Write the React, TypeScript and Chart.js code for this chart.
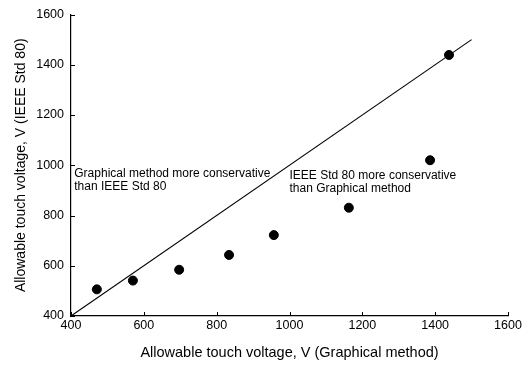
import React, { useEffect, useRef } from "react";
import { Chart, registerables } from "chart.js";

Chart.register(...registerables);

const graphicalMethod = [471, 570, 697, 834, 957, 1163, 1386, 1438];
const ieeeStd80 = [506, 541, 584, 643, 722, 831, 1020, 1439];
const equalityLineX = [400, 1500];
const equalityLineY = [400, 1500];
const xTicks = [400, 600, 800, 1000, 1200, 1400, 1600];
const yTicks = [400, 600, 800, 1000, 1200, 1400, 1600];
const leftNote = ["Graphical method more conservative", "than IEEE Std 80"];
const leftNotePos = [409, 968];
const rightNote = ["IEEE Std 80 more conservative", "than Graphical method"];
const rightNotePos = [1000, 960];

const FONT = "'Liberation Sans', Arial, Helvetica, sans-serif";

const extrasPlugin = {
  id: "extras",
  afterDraw(chart: any) {
    const ctx = chart.ctx;
    const xs = chart.scales.x;
    const ys = chart.scales.y;
    const ca = chart.chartArea;
    ctx.save();
    ctx.strokeStyle = "#000";
    ctx.lineWidth = 1;
    xTicks.forEach((v) => {
      const px = Math.round(xs.getPixelForValue(v)) + 0.5;
      ctx.beginPath();
      ctx.moveTo(px, ca.bottom);
      ctx.lineTo(px, ca.bottom - 4);
      ctx.stroke();
    });
    yTicks.forEach((v) => {
      const py = Math.round(ys.getPixelForValue(v)) + 0.5;
      ctx.beginPath();
      ctx.moveTo(ca.left, py);
      ctx.lineTo(ca.left + 4, py);
      ctx.stroke();
    });
    ctx.fillStyle = "#000";
    ctx.font = `12px ${FONT}`;
    ctx.textAlign = "left";
    ctx.textBaseline = "middle";
    const drawNote = (lines: string[], pos: number[]) => {
      const x = xs.getPixelForValue(pos[0]);
      const y = ys.getPixelForValue(pos[1]);
      lines.forEach((l, i) => ctx.fillText(l, x, y + i * 13));
    };
    drawNote(leftNote, leftNotePos);
    drawNote(rightNote, rightNotePos);
    ctx.restore();
  },
};

export default function App() {
  const ref = useRef<HTMLCanvasElement | null>(null);
  useEffect(() => {
    if (!ref.current) return;
    const chart = new Chart(ref.current, {
      type: "scatter",
      data: {
        datasets: [
          {
            type: "line",
            data: equalityLineX.map((x, i) => ({ x, y: equalityLineY[i] })),
            borderColor: "#000",
            borderWidth: 1.1,
            pointRadius: 0,
            fill: false,
          } as any,
          {
            data: graphicalMethod.map((x, i) => ({ x, y: ieeeStd80[i] })),
            backgroundColor: "#000",
            borderColor: "#000",
            pointRadius: 4.5,
          },
        ],
      },
      options: {
        animation: false,
        responsive: false,
        maintainAspectRatio: false,
        plugins: { legend: { display: false }, tooltip: { enabled: false } },
        layout: { padding: { top: 10, right: 24, left: 0, bottom: 0 } },
        scales: {
          x: {
            type: "linear",
            min: 400,
            max: 1600,
            afterFit: (s: any) => {
              s.height = 51;
            },
            afterBuildTicks: (s: any) => {
              s.ticks = xTicks.map((v) => ({ value: v }));
            },
            grid: { display: false, drawTicks: false },
            border: { display: true, color: "#000", width: 1.2 },
            ticks: {
              color: "#000",
              padding: 2,
              maxRotation: 0,
              font: { family: FONT, size: 12.5 },
              callback: (v: any) => String(v),
            },
            title: {
              display: true,
              text: "Allowable touch voltage, V (Graphical method)",
              color: "#000",
              font: { family: FONT, size: 14.5 },
              padding: { top: 0, bottom: 5 },
            },
          },
          y: {
            type: "linear",
            min: 400,
            max: 1600,
            afterFit: (s: any) => {
              s.width = 71;
            },
            afterBuildTicks: (s: any) => {
              s.ticks = yTicks.map((v) => ({ value: v }));
            },
            grid: { display: false, drawTicks: false },
            border: { display: true, color: "#000", width: 1.2 },
            ticks: {
              color: "#000",
              padding: 7,
              font: { family: FONT, size: 12.5 },
              callback: (v: any) => String(v),
            },
            title: {
              display: true,
              text: "Allowable touch voltage, V (IEEE Std 80)",
              color: "#000",
              font: { family: FONT, size: 14 },
              padding: { top: 13, bottom: 0 },
            },
          },
        },
      },
      plugins: [extrasPlugin],
    });
    return () => chart.destroy();
  }, []);
  return (
    <div style={{ position: "fixed", left: 0, top: 0, width: 532, height: 367, background: "#fff" }}>
      <canvas ref={ref} width={532} height={367} style={{ width: 532, height: 367 }} />
    </div>
  );
}
